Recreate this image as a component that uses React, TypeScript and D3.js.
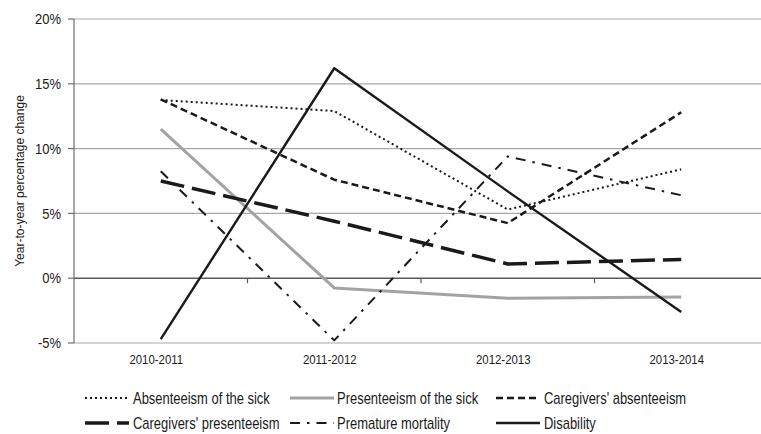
import * as d3 from 'd3';
import React, { useEffect, useRef } from 'react';

const periods = ['2010-2011', '2011-2012', '2012-2013', '2013-2014'];
const yTicks = [-5, 0, 5, 10, 15, 20];

const absSick = [13.75, 12.9, 5.3, 8.4];
const presSick = [11.5, -0.75, -1.55, -1.45];
const carersAbs = [13.8, 7.6, 4.25, 12.8];
const carersPres = [7.5, 4.4, 1.1, 1.45];
const prematureMort = [8.25, -4.8, 9.4, 6.4];
const disability = [-4.7, 16.2, 6.7, -2.6];

const seriesNames = [
    'Absenteeism of the sick',
    'Presenteeism of the sick',
    "Caregivers' absenteeism",
    "Caregivers' presenteeism",
    'Premature mortality',
    'Disability',
];

interface LineStyle {
    color: string;
    width: number;
    dash: string | null;
}

const styles: LineStyle[] = [
    { color: '#1a1a1a', width: 2, dash: '2,3' },
    { color: '#a3a3a3', width: 3, dash: null },
    { color: '#1a1a1a', width: 2.5, dash: '7,4' },
    { color: '#1a1a1a', width: 3.5, dash: '24,8' },
    { color: '#1a1a1a', width: 2, dash: '10,7,2.5,7' },
    { color: '#1a1a1a', width: 2.4, dash: null },
];

const App: React.FC = () => {
    const svgRef = useRef<SVGSVGElement | null>(null);

    useEffect(() => {
        const width = 761;
        const height = 434;
        const left = 74;
        const top = 19;
        const bottom = 343;
        const right = 768;

        d3.select(svgRef.current).selectAll('*').remove();

        const svg = d3
            .select(svgRef.current)
            .attr('width', width)
            .attr('height', height)
            .style('font-family', "'Liberation Sans', Arial, sans-serif");

        const x = d3.scaleBand().domain(periods).range([left, right]);
        const y = d3.scaleLinear().domain([-5, 20]).range([bottom, top]);
        const cx = (p: string) => (x(p) as number) + x.bandwidth() / 2;

        // horizontal gridlines
        svg.append('g')
            .selectAll('line')
            .data(yTicks.filter(t => t !== 0))
            .enter()
            .append('line')
            .attr('x1', left)
            .attr('x2', right)
            .attr('y1', d => y(d))
            .attr('y2', d => y(d))
            .attr('stroke', '#a8a8a8')
            .attr('stroke-width', 1.2);

        // y axis
        const yAxis = svg.append('g').attr('transform', `translate(${left},0)`);
        yAxis.append('line')
            .attr('x1', 0).attr('x2', 0)
            .attr('y1', top).attr('y2', bottom)
            .attr('stroke', '#6e6e6e')
            .attr('stroke-width', 1.2);
        yAxis.selectAll('line.tick')
            .data(yTicks)
            .enter()
            .append('line')
            .attr('class', 'tick')
            .attr('x1', -6).attr('x2', 0)
            .attr('y1', d => y(d)).attr('y2', d => y(d))
            .attr('stroke', '#6e6e6e')
            .attr('stroke-width', 1.2);
        yAxis.selectAll('text')
            .data(yTicks)
            .enter()
            .append('text')
            .attr('transform', d => `translate(-13,${y(d)}) scale(1,1.1)`)
            .attr('dy', '0.36em')
            .attr('text-anchor', 'end')
            .attr('fill', '#1a1a1a')
            .style('font-size', '13px')
            .text(d => `${d}%`);

        svg.append('text')
            .attr('transform', `translate(24,${(top + bottom) / 2}) rotate(-90) scale(1,1.1)`)
            .attr('text-anchor', 'middle')
            .attr('fill', '#1a1a1a')
            .style('font-size', '12px')
            .text('Year-to-year percentage change');

        // category axis on the 0% line
        const xAxis = svg.append('g').attr('transform', `translate(0,${y(0)})`);
        xAxis.append('line')
            .attr('x1', left).attr('x2', right)
            .attr('stroke', '#5a5a5a')
            .attr('stroke-width', 1.4);
        xAxis.selectAll('line.tick')
            .data(periods.slice(1))
            .enter()
            .append('line')
            .attr('class', 'tick')
            .attr('x1', d => x(d) as number)
            .attr('x2', d => x(d) as number)
            .attr('y1', 0).attr('y2', 5)
            .attr('stroke', '#5a5a5a')
            .attr('stroke-width', 1.2);

        // category labels below the plot
        svg.append('g')
            .selectAll('text')
            .data(periods)
            .enter()
            .append('text')
            .attr('transform', d => `translate(${cx(d) - 4.5},364) scale(0.95,1.1)`)
            .attr('text-anchor', 'middle')
            .attr('fill', '#1a1a1a')
            .style('font-size', '12px')
            .text(d => d);

        // series lines
        const allSeries = [absSick, presSick, carersAbs, carersPres, prematureMort, disability];
        const line = d3
            .line<number>()
            .x((_, i) => cx(periods[i]))
            .y(d => y(d));

        allSeries.forEach((values, i) => {
            const s = styles[i];
            svg.append('path')
                .datum(values)
                .attr('d', line)
                .attr('fill', 'none')
                .attr('stroke', s.color)
                .attr('stroke-width', s.width)
                .attr('stroke-dasharray', s.dash)
                .attr('stroke-linejoin', 'round');
        });

        // legend, 3 columns x 2 rows
        const colSample = [85, 290, 496];
        const colText = [133, 337, 544];
        const rowY = [398, 423];
        const legend = svg.append('g');
        seriesNames.forEach((name, i) => {
            const col = i % 3;
            const row = Math.floor(i / 3);
            const s = styles[i];
            legend.append('line')
                .attr('x1', colSample[col])
                .attr('x2', colSample[col] + 44)
                .attr('y1', rowY[row])
                .attr('y2', rowY[row])
                .attr('stroke', s.color)
                .attr('stroke-width', s.width)
                .attr('stroke-dasharray', s.dash);
            legend.append('text')
                .attr('transform', `translate(${colText[col]},${rowY[row]}) scale(0.96,1.18)`)
                .attr('dy', '0.36em')
                .attr('fill', '#1a1a1a')
                .style('font-size', '13.5px')
                .text(name);
        });
    }, []);

    return (
        <svg ref={svgRef} style={{ position: 'absolute', left: 0, top: 0 }}></svg>
    );
};

export default App;
